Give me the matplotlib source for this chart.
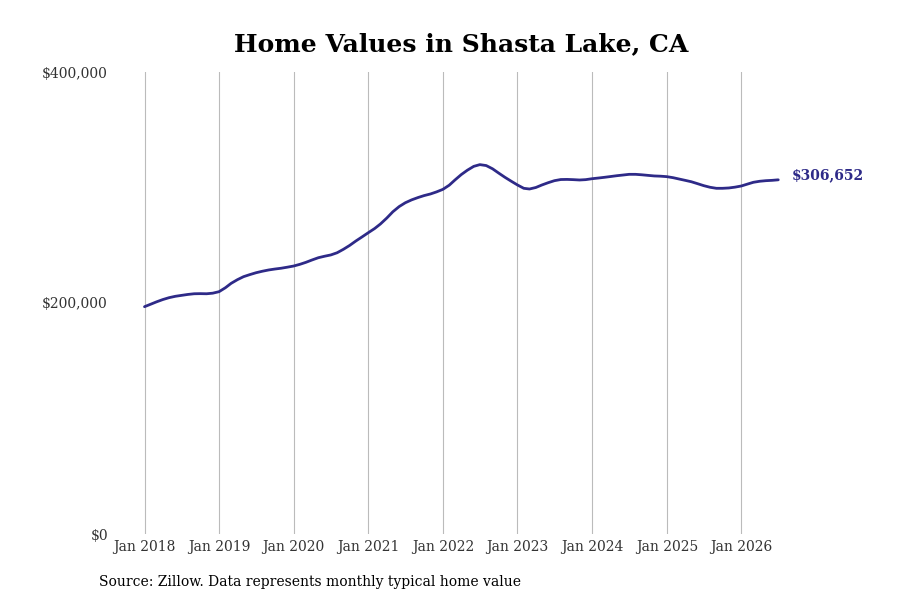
import matplotlib
matplotlib.use("Agg")
import matplotlib.pyplot as plt
import matplotlib.dates as mdates
import pandas as pd
import numpy as np

start_month = "2018-01-01"
values_k = [
    196.8, 199.0, 201.0, 203.0, 204.6, 205.8, 206.6, 207.4, 208.0, 208.1, 208.0, 208.5,
    209.8, 213.2, 217.0, 220.2, 222.8, 224.6, 226.2, 227.5, 228.6, 229.4, 230.1, 231.0,
    232.0, 233.5, 235.2, 237.3, 239.2, 240.5, 241.6, 243.5, 246.5, 249.8, 253.7, 257.2,
    260.9, 264.5, 268.4, 273.5, 279.0, 283.5, 286.8, 289.3, 291.3, 293.0, 294.4, 296.2,
    298.4, 302.0, 306.5, 311.2, 315.0, 318.3, 319.8, 319.0, 316.2, 312.5, 308.8, 305.5,
    302.2, 299.3, 298.7, 300.0, 302.2, 304.2, 305.9, 306.9, 307.0, 306.8, 306.5, 306.8,
    307.6, 308.2, 308.8, 309.5, 310.2, 310.8, 311.4, 311.4, 311.0, 310.5, 310.0, 309.8,
    309.4, 308.5, 307.4, 306.2, 305.0, 303.3, 301.6, 300.2, 299.3, 299.3, 299.6, 300.3,
    301.3, 303.0, 304.5, 305.4, 305.9, 306.2, 306.652,
]
tick_years = [2018, 2019, 2020, 2021, 2022, 2023, 2024, 2025, 2026]
y_ticks = [0, 200000, 400000]
y_tick_labels = ["$0", "$200,000", "$400,000"]
title = "Home Values in Shasta Lake, CA"
source = "Source: Zillow. Data represents monthly typical home value"
end_label = "$306,652"

line_color = "#2e2a88"

dates = pd.date_range(start_month, periods=len(values_k), freq="MS")
values = np.array(values_k) * 1000

plt.rcParams["font.family"] = ["DejaVu Serif"]

fig = plt.figure(figsize=(9, 6), dpi=100)
ax = fig.add_axes([110 / 900, 66 / 600, 690 / 900, 462 / 600])

ax.plot(dates, values, color=line_color, linewidth=2.0, solid_capstyle="round")

x0 = mdates.date2num(pd.Timestamp("2018-01-01"))
x1 = mdates.date2num(pd.Timestamp("2026-01-01"))
ppd = (741.3 - 144.5) / (x1 - x0)
ax.set_xlim(x0 - (144.5 - 110) / ppd, x0 + (800 - 144.5) / ppd)
ax.set_ylim(0, 400000)

ax.set_xticks([pd.Timestamp(f"{y}-01-01") for y in tick_years])
ax.set_xticklabels([f"Jan {y}" for y in tick_years])
ax.set_yticks(y_ticks)
ax.set_yticklabels(y_tick_labels)

ax.tick_params(axis="both", length=0, labelsize=10, colors="#333333")
ax.tick_params(axis="x", pad=4)
ax.tick_params(axis="y", pad=1.5)
for lbl in ax.get_yticklabels():
    lbl.set_verticalalignment("center_baseline")

ax.grid(axis="x", color="#bbbbbb", linewidth=0.8)
ax.grid(axis="y", visible=False)
for s in ax.spines.values():
    s.set_visible(False)

ax.annotate(end_label, xy=(dates[-1], values[-1]), xytext=(10, 3.6),
            textcoords="offset points", ha="left", va="center",
            fontsize=10, fontweight="bold", color=line_color)

fig.text(461 / 900, 1 - 44 / 600, title, ha="center", va="center",
         fontsize=18, fontweight="bold", color="black")
fig.text(99 / 900, 1 - 582 / 600, source, ha="left", va="center",
         fontsize=10, color="black")

fig.savefig("out.png", dpi=100)
